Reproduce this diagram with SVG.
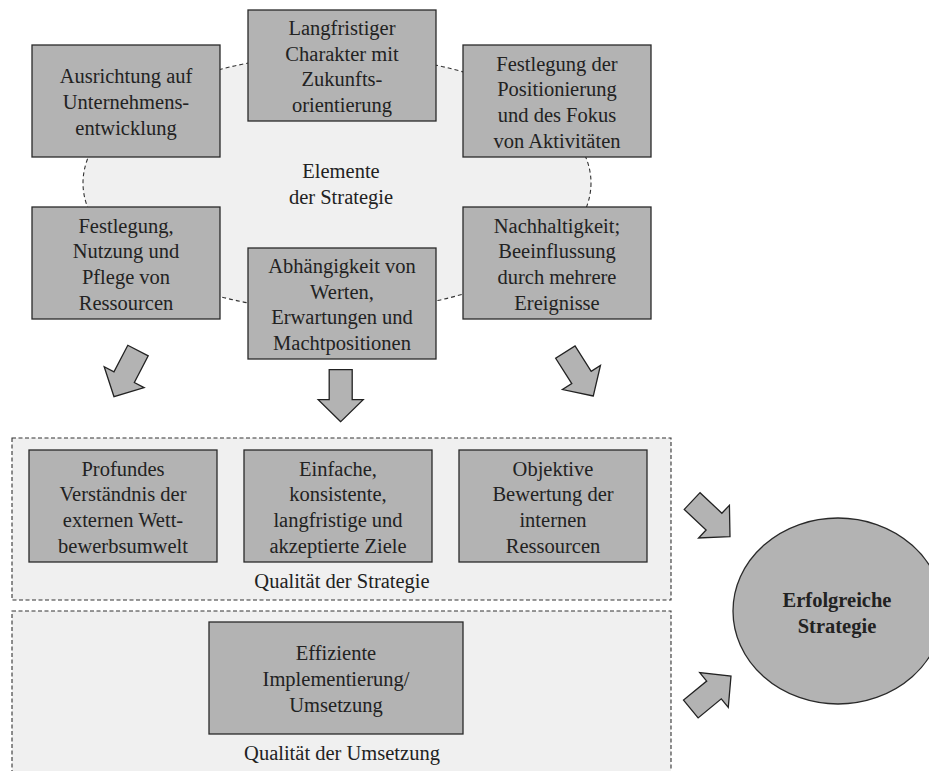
<svg xmlns="http://www.w3.org/2000/svg" width="929" height="771" viewBox="0 0 929 771" font-family="'Liberation Serif', 'DejaVu Serif', serif">
  <style>
    .box { fill: #b3b3b3; stroke: #2a2a2a; stroke-width: 1.3; }
    .area { fill: #f0f0f0; stroke: #333; stroke-width: 1.1; stroke-dasharray: 4 2.5; }
    .ring { fill: #f0f0f0; stroke: #333; stroke-width: 1.1; stroke-dasharray: 4 3; }
    .arrow { fill: #b3b3b3; stroke: #222; stroke-width: 1.3; stroke-linejoin: miter; }
    text { font-family: 'Liberation Serif', 'DejaVu Serif', serif; font-size: 20.5px; fill: #222; text-anchor: middle; }
    .bold { font-weight: bold; }
  </style>
  <defs>
    <!-- block arrow pointing down, tip at origin -->
    <polygon id="blockArrow" points="0,0 -22.5,-22 -11.5,-22 -11.5,-52 11.5,-52 11.5,-22 22.5,-22"/>
  </defs>

  <rect width="929" height="771" fill="#ffffff"/>

  <!-- elements of strategy: dashed ring -->
  <g id="ring">
    <ellipse class="ring" cx="337" cy="183" rx="254" ry="128"/>
    <text x="341" y="178">Elemente</text>
    <text x="341" y="203.5">der Strategie</text>
  </g>

  <g id="n-ausrichtung">
    <rect class="box" x="32" y="45" width="188" height="112"/>
    <text x="126" y="83.3">Ausrichtung auf</text>
    <text x="126" y="109">Unternehmens-</text>
    <text x="126" y="134.7">entwicklung</text>
  </g>

  <g id="n-langfristig">
    <rect class="box" x="248" y="10" width="188" height="111"/>
    <text x="342" y="35">Langfristiger</text>
    <text x="342" y="60.7">Charakter mit</text>
    <text x="342" y="86.4">Zukunfts-</text>
    <text x="342" y="112">orientierung</text>
  </g>

  <g id="n-positionierung">
    <rect class="box" x="463" y="45" width="188" height="112"/>
    <text x="557" y="70.5">Festlegung der</text>
    <text x="557" y="96.2">Positionierung</text>
    <text x="557" y="121.9">und des Fokus</text>
    <text x="557" y="147.6">von Aktivitäten</text>
  </g>

  <g id="n-ressourcen">
    <rect class="box" x="32" y="207" width="188" height="112"/>
    <text x="126" y="232.5">Festlegung,</text>
    <text x="126" y="258.2">Nutzung und</text>
    <text x="126" y="283.9">Pflege von</text>
    <text x="126" y="309.6">Ressourcen</text>
  </g>

  <g id="n-werte">
    <rect class="box" x="248" y="248" width="188" height="111"/>
    <text x="342" y="273">Abhängigkeit von</text>
    <text x="342" y="298.7">Werten,</text>
    <text x="342" y="324.4">Erwartungen und</text>
    <text x="342" y="350">Machtpositionen</text>
  </g>

  <g id="n-nachhaltigkeit">
    <rect class="box" x="463" y="207" width="188" height="112"/>
    <text x="557" y="232.5">Nachhaltigkeit;</text>
    <text x="557" y="258.2">Beeinflussung</text>
    <text x="557" y="283.9">durch mehrere</text>
    <text x="557" y="309.6">Ereignisse</text>
  </g>

  <!-- quality of strategy -->
  <g id="g-qualitaet-strategie">
    <rect class="area" x="12" y="438" width="659" height="162"/>
    <text x="342" y="588">Qualität der Strategie</text>
  </g>

  <g id="n-umwelt">
    <rect class="box" x="29" y="450" width="188" height="112"/>
    <text x="123" y="475.5">Profundes</text>
    <text x="123" y="501.2">Verständnis der</text>
    <text x="123" y="526.9">externen Wett-</text>
    <text x="123" y="552.6">bewerbsumwelt</text>
  </g>

  <g id="n-ziele">
    <rect class="box" x="244" y="450" width="188" height="112"/>
    <text x="338" y="475.5">Einfache,</text>
    <text x="338" y="501.2">konsistente,</text>
    <text x="338" y="526.9">langfristige und</text>
    <text x="338" y="552.6">akzeptierte Ziele</text>
  </g>

  <g id="n-bewertung">
    <rect class="box" x="459" y="450" width="188" height="112"/>
    <text x="553" y="475.5">Objektive</text>
    <text x="553" y="501.2">Bewertung der</text>
    <text x="553" y="526.9">internen</text>
    <text x="553" y="552.6">Ressourcen</text>
  </g>

  <!-- quality of implementation -->
  <g id="g-qualitaet-umsetzung">
    <rect class="area" x="12" y="611" width="659" height="170"/>
    <text x="342" y="760">Qualität der Umsetzung</text>
  </g>

  <g id="n-implementierung">
    <rect class="box" x="209" y="622" width="254" height="112"/>
    <text x="336" y="660.3">Effiziente</text>
    <text x="336" y="686">Implementierung/</text>
    <text x="336" y="711.7">Umsetzung</text>
  </g>

  <g id="n-erfolg">
    <ellipse class="box" cx="838" cy="611" rx="105" ry="93"/>
    <text class="bold" x="837" y="607">Erfolgreiche</text>
    <text class="bold" x="837" y="633">Strategie</text>
  </g>

  <g id="connectors">
    <use href="#blockArrow" class="arrow" transform="translate(114,396.7) rotate(27.5)"/>
    <use href="#blockArrow" class="arrow" transform="translate(340.7,421.7)"/>
    <use href="#blockArrow" class="arrow" transform="translate(593.3,396) rotate(-32.5)"/>
    <use href="#blockArrow" class="arrow" transform="translate(730,536.7) rotate(-46.7)"/>
    <use href="#blockArrow" class="arrow" transform="translate(731,676) rotate(-129.4)"/>
  </g>
</svg>
